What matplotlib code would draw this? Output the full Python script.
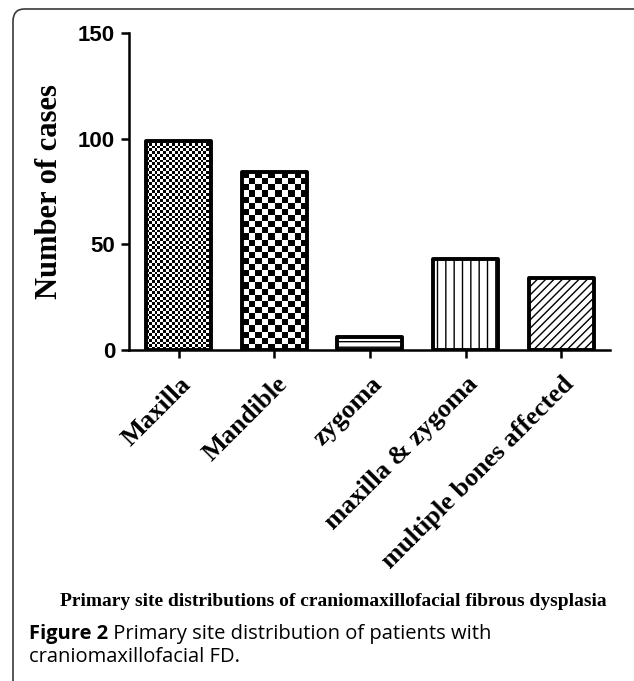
import numpy as np
import matplotlib
matplotlib.use("Agg")
import matplotlib.pyplot as plt
from matplotlib.patches import FancyBboxPatch
import matplotlib.transforms as mtransforms

categories = ["Maxilla", "Mandible", "zygoma", "maxilla & zygoma", "multiple bones affected"]
cases = [99, 84, 6, 43, 34]
yticks = [0, 50, 100, 150]
ylabel = "Number of cases"
chart_title = "Primary site distributions of craniomaxillofacial fibrous dysplasia"
fig_caption_bold = "Figure 2"
fig_caption_rest = " Primary site distribution of patients with"
fig_caption_line2 = "craniomaxillofacial FD."

W, H, DPI = 634, 681, 100
fig = plt.figure(figsize=(W / DPI, H / DPI), dpi=DPI)
plt.rcParams['hatch.linewidth'] = 1.0

# frame
frame = FancyBboxPatch((13 / W, -0.05), 1.1, (1 - 9 / H) + 0.05,
                       boxstyle="round,pad=0,rounding_size=0.018",
                       transform=fig.transFigure, fill=False,
                       edgecolor="#3a3a3a", linewidth=1.2, zorder=0)
fig.patches.append(frame)

ax_l, ax_r = 129 / W, 610 / W
ax_b, ax_t = 1 - 350 / H, 1 - 33 / H
ax = fig.add_axes([ax_l, ax_b, ax_r - ax_l, ax_t - ax_b])

x = np.arange(len(categories))
bw = 0.68
xlim = (-0.52, 4.51)
hatches = [None, None, "---", "||", "////"]
bars = ax.bar(x, cases, width=bw, color="white", edgecolor="black",
              linewidth=2.8, zorder=3, joinstyle="round")
for b, h in zip(bars, hatches):
    if h:
        b.set_hatch(h)

ax.set_xlim(*xlim)
ax.set_ylim(0, 150)

# checker fills for first two bars
px_per_x = (610 - 129) / (xlim[1] - xlim[0])
px_per_y = (350 - 33) / 150
checker_cells = {0: 2.8, 1: 6.2}
for i, cell in checker_cells.items():
    b = bars[i]
    x0 = b.get_x()
    x1 = x0 + b.get_width()
    h = b.get_height()
    nx = max(1, int(round((x1 - x0) * px_per_x / cell)))
    ny = max(1, int(round(h * px_per_y / cell)))
    arr = (np.add.outer(np.arange(ny), np.arange(nx)) % 2).astype(float)
    im = ax.imshow(arr, cmap="gray", extent=(x0, x1, 0, h), aspect="auto",
                   interpolation="nearest", zorder=2, vmin=0, vmax=1)
    im.set_clip_path(b)
    b.set_facecolor("none")

ax.set_xlim(*xlim)
ax.set_ylim(0, 150)

for s in ["top", "right"]:
    ax.spines[s].set_visible(False)
for s in ["left", "bottom"]:
    ax.spines[s].set_linewidth(1.8)
    ax.spines[s].set_zorder(5)

ax.set_yticks(yticks)
ax.set_yticklabels([str(v) for v in yticks], fontfamily="Liberation Sans",
                   fontweight="bold", fontsize=16)
ax.tick_params(axis="y", direction="out", length=6, width=1.8, pad=4)
ax.set_xticks(x)
ax.set_xticklabels(categories, rotation=45, ha="right", va="center",
                   rotation_mode="anchor", fontfamily="Liberation Serif",
                   fontweight="bold", fontsize=19)
ax.tick_params(axis="x", direction="out", length=6, width=1.8, pad=16)
offset = mtransforms.ScaledTranslation(9 / DPI, 0, fig.dpi_scale_trans)
for lab in ax.get_xticklabels():
    lab.set_transform(lab.get_transform() + offset)

ax.set_ylabel(ylabel, fontfamily="Liberation Serif", fontweight="bold", fontsize=22)
ax.yaxis.set_label_coords((64 - 129) / (610 - 129), 0.5)

fig.text(0.5 + 0.025, 1 - 602 / H, chart_title, ha="center", va="center",
         fontfamily="Liberation Serif", fontweight="bold", fontsize=14)

t1 = fig.text(29 / W, 1 - 634 / H, fig_caption_bold, ha="left", va="center",
              fontfamily="Open Sans", fontweight="bold", fontsize=14.5)
fig.canvas.draw()
bb = t1.get_window_extent()
fig.text(bb.x1 / W, 1 - 634 / H, fig_caption_rest, ha="left", va="center",
         fontfamily="Open Sans", fontsize=14.5)
fig.text(29 / W, 1 - 657 / H, fig_caption_line2, ha="left", va="center",
         fontfamily="Open Sans", fontsize=14.5)

fig.savefig("out.png", dpi=DPI)
